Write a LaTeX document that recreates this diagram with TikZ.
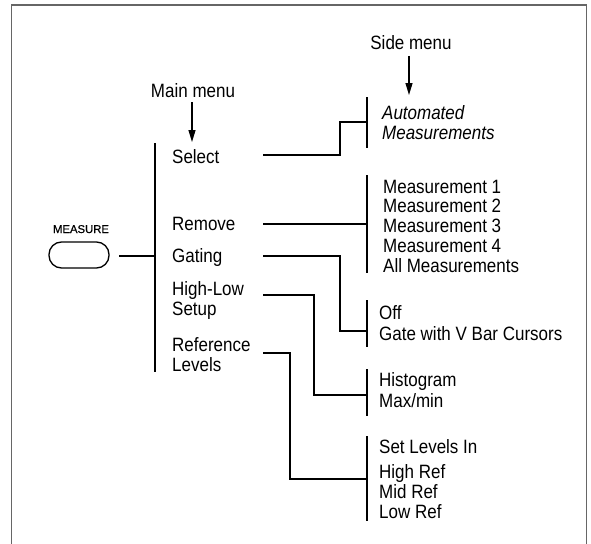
\documentclass[tikz,border=0pt]{standalone}
\usepackage{fontspec}
\setmainfont{Liberation Sans}[FakeStretch=0.88]
\newfontfamily\btnfont{Liberation Sans}[FakeBold=0.6]
\usetikzlibrary{arrows.meta}
\begin{document}
\begin{tikzpicture}[x=1pt,y=-1pt,
  lbl/.style={anchor=base west, inner sep=0pt, font=\fontsize{19.3}{20}\selectfont},
  ilbl/.style={lbl, font=\fontsize{19.3}{20}\selectfont\itshape},
  conn/.style={line width=2.4pt},
  menubar/.style={line width=2.6pt},
  pointer/.style={line width=1.2pt, -{Triangle[length=12pt,width=7pt]}},
  frame/.style={draw=black!60, line width=1.5pt},
  button/.style={draw, line width=1.3pt, rounded corners=12.5pt, minimum width=60pt, minimum height=26pt, inner sep=0pt}
]
\useasboundingbox (0,0) rectangle (591,543);
% frame (bottom edge cut off)
\draw[frame] (11.5,545) -- (11.5,5) -- (586.5,5) -- (586.5,545);

% headings and pointers
\node[lbl, anchor=base] (mainlbl) at (193,97) {Main menu};
\node[lbl, anchor=base] (sidelbl) at (411,50) {Side menu};
\coordinate (mainfrom) at (192,102);
\coordinate (mainto) at (192,142);
\coordinate (sidefrom) at (409,56);
\coordinate (sideto) at (409,95);
\draw[pointer] (mainfrom) -- (mainto);
\draw[pointer] (sidefrom) -- (sideto);

% MEASURE button
\node[anchor=base, inner sep=0pt, font=\btnfont\fontsize{11.3}{12}\selectfont] (measlbl) at (81,233) {MEASURE};
\node[button] (btn) at (79,255) {};
\coordinate (btnout) at (119,256);

% main menu bar
\coordinate (mtop) at (155,143);
\coordinate (mbot) at (155,372);
\draw[menubar] (mtop) -- (mbot);
\coordinate (mjoin) at (155,256);
\draw[conn] (btnout) -- (mjoin);

% main menu items
\node[lbl] (select) at (172,163) {Select};
\node[lbl] (remove) at (172,230) {Remove};
\node[lbl] (gating) at (172,262) {Gating};
\node[lbl] (highlow) at (172,295) {High-Low};
\node[lbl] (setup) at (172,315.5) {Setup};
\node[lbl] (reference) at (172,351) {Reference};
\node[lbl] (levels) at (172,371) {Levels};

% side menu bars
\foreach \n/\a/\b in {s1/97/148, s2/175/273, s3/300/347, s4/369/416, s5/436/521}{
  \coordinate (\n top) at (367,\a);
  \coordinate (\n bot) at (367,\b);
  \draw[menubar] (\n top) -- (\n bot);
}

% side menu items
\node[ilbl] (auto) at (382,119) {Automated};
\node[ilbl] (autom) at (382,139) {Measurements};
\node[lbl] (m1) at (383,193) {Measurement 1};
\node[lbl] (m2) at (383,212.7) {Measurement 2};
\node[lbl] (m3) at (383,232.5) {Measurement 3};
\node[lbl] (m4) at (383,252.3) {Measurement 4};
\node[lbl] (mall) at (383,272) {All Measurements};
\node[lbl] (off) at (379,319) {Off};
\node[lbl] (gate) at (379,340) {Gate with V Bar Cursors};
\node[lbl] (hist) at (379,386) {Histogram};
\node[lbl] (maxmin) at (379,407) {Max/min};
\node[lbl] (setlev) at (379,453) {Set Levels In};
\node[lbl] (highref) at (379,478) {High Ref};
\node[lbl] (midref) at (379,498) {Mid Ref};
\node[lbl] (lowref) at (379,518) {Low Ref};

% connectors
\coordinate (c1a) at (263,155); \coordinate (c1b) at (367,122);
\coordinate (c2a) at (263,224); \coordinate (c2b) at (367,224);
\coordinate (c3a) at (263,256); \coordinate (c3b) at (367,331);
\coordinate (c4a) at (263,295); \coordinate (c4b) at (367,395);
\coordinate (c5a) at (263,353); \coordinate (c5b) at (367,479);
\draw[conn] (c1a) -- (340,155) -- (340,122) -- (c1b);
\draw[conn] (c2a) -- (c2b);
\draw[conn] (c3a) -- (340,256) -- (340,331) -- (c3b);
\draw[conn] (c4a) -- (314,295) -- (314,395) -- (c4b);
\draw[conn] (c5a) -- (290,353) -- (290,479) -- (c5b);
\end{tikzpicture}
\end{document}
